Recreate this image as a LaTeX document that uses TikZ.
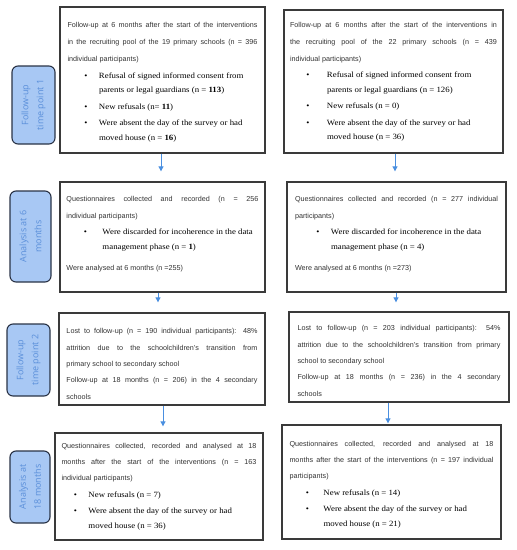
\documentclass[tikz,border=0pt]{standalone}
\usepackage{fontspec}
\setsansfont{Liberation Sans}
\newfontfamily\bulfont{Liberation Serif}[FakeStretch=1.1]
\newfontfamily\labfont{Open Sans}
\usetikzlibrary{arrows.meta}
\definecolor{labfill}{HTML}{A8C8F4}
\definecolor{labtext}{HTML}{5A8FDA}
\definecolor{labdraw}{HTML}{2A3346}
\definecolor{arrowblue}{HTML}{4A8FE0}
\definecolor{boxdraw}{HTML}{3A3A3A}
\definecolor{sanstext}{HTML}{333333}
\newcommand{\sanstxt}[1][17]{\sffamily\fontsize{7.2}{#1}\selectfont\color{sanstext}}
\newcommand{\bultxt}{\bulfont\fontsize{8.0}{14.5}\selectfont\color{black}}
\newcommand{\jline}[1]{\hbox to \hsize{#1}}
\newcommand{\rline}[1]{\hbox to \hsize{#1\hfil}}
\newcommand{\bitem}[3]{{\bultxt\hangindent=#1pt\hangafter=0\rightskip=0pt plus 1fil\noindent\llap{\makebox[0pt]{\textbullet}\hspace{\dimexpr#1pt-#2pt\relax}}#3\par}}
\begin{document}
\begin{tikzpicture}[x=1pt,y=-1pt,
  box/.style={draw=boxdraw, line width=1.3pt, fill=white, inner sep=0pt, align=justify,
    execute at begin node={\setlength{\parindent}{0pt}\setlength{\parskip}{2pt}\tolerance=9999\hbadness=10000\hyphenpenalty=10000}},
  lab/.style={draw=labdraw, fill=labfill, line width=1.1pt, rounded corners=6pt,
    text=labtext, font=\labfont\fontsize{9}{15}\selectfont, align=center, inner sep=0pt, rotate=90},
  arr/.style={draw=arrowblue, line width=0.8pt, -{Triangle[length=5pt,width=5pt]}}]
\useasboundingbox (0,0) rectangle (517,550);

% side labels
\node[lab, minimum width=78pt, minimum height=43pt] (T1) at (33.5,105) {Follow-up\\time point 1};
\node[lab, minimum width=91pt, minimum height=41pt] (T2) at (30.5,236.5) {Analysis at 6\\months};
\node[lab, minimum width=72pt, minimum height=43pt] (T3) at (28.5,360) {Follow-up\\time point 2};
\node[lab, minimum width=72pt, minimum height=40pt] (T4) at (30,487) {Analysis at\\18 months};

% row 1
\node[box, minimum width=205pt, minimum height=146pt, text width=190pt] (L1) at (162.5,80) {%
{\sanstxt
\jline{Follow-up at 6 months after the start of the interventions}
\jline{in the recruiting pool of the 19 primary schools (n = 396}
\rline{individual participants)}\par}
\bitem{31.5}{18.5}{Refusal of signed informed consent from\newline parents or legal guardians (n = \textbf{113})}
\bitem{31.5}{18.5}{New refusals (n= \textbf{11})}
\bitem{31.5}{18.5}{Were absent the day of the survey or had\newline moved house (n = \textbf{16})}
\par\kern-4pt};

\node[box, minimum width=219pt, minimum height=143pt, text width=207pt] (R1) at (393.5,81.5) {%
{\sanstxt
\jline{Follow-up at 6 months after the start of the interventions in}
\jline{the recruiting pool of the 22 primary schools (n = 439}
\rline{individual participants)}\par}
\bitem{37}{18}{Refusal of signed informed consent from\newline parents or legal guardians (n = 126)}
\bitem{37}{18}{New refusals (n = 0)}
\bitem{37}{18}{Were absent the day of the survey or had\newline moved house (n = 36)}};

% row 2
\node[box, minimum width=205pt, minimum height=110pt, text width=192pt] (L2) at (162.5,237) {%
{\sanstxt
\jline{Questionnaires collected and recorded (n = 256}
\rline{individual participants)}\par}
\bitem{36}{19}{Were discarded for incoherence in the data\newline management phase (n = \textbf{1})}
\vspace{4pt}
{\sanstxt\rline{Were analysed at 6 months (n =255)}}
\par\kern6pt};

\node[box, minimum width=219pt, minimum height=110pt, text width=203pt] (R2) at (396.5,237) {%
{\sanstxt
\jline{Questionnaires collected and recorded (n = 277 individual}
\rline{participants)}\par}
\bitem{36}{23}{Were discarded for incoherence in the data\newline management phase (n = 4)}
\vspace{4pt}
{\sanstxt\rline{Were analysed at 6 months (n =273)}}
\par\kern6pt};

% row 3
\node[box, minimum width=206pt, minimum height=92pt, text width=191pt] (L3) at (162,359) {%
{\sanstxt[16.3]
\jline{Lost to follow-up (n = 190 individual participants): 48\%}
\jline{attrition due to the schoolchildren’s transition from}
\rline{primary school to secondary school}
\jline{Follow-up at 18 months (n = 206) in the 4 secondary}
\rline{schools}\par}
\kern-10pt};

\node[box, minimum width=220pt, minimum height=90pt, text width=203pt] (R3) at (399,357) {%
{\sanstxt[16.3]
\jline{Lost to follow-up (n = 203 individual participants): 54\%}
\jline{attrition due to the schoolchildren’s transition from primary}
\rline{school to secondary school}
\jline{Follow-up at 18 months (n = 236) in the 4 secondary}
\rline{schools}\par}
\kern-8pt};

% row 4
\node[box, minimum width=208pt, minimum height=107pt, text width=195pt] (L4) at (159,486.5) {%
{\sanstxt[16]
\jline{Questionnaires collected, recorded and analysed at 18}
\jline{months after the start of the interventions (n = 163}
\rline{individual participants)}\par}
\bitem{27}{14}{New refusals (n = 7)}
\bitem{27}{14}{Were absent the day of the survey or had\newline moved house (n = 36)}};

\node[box, minimum width=219pt, minimum height=114pt, text width=204pt] (R4) at (391.5,482) {%
{\sanstxt[16]
\jline{Questionnaires collected, recorded and analysed at 18}
\jline{months after the start of the interventions (n = 197 individual}
\rline{participants)}\par}
\bitem{34}{18}{New refusals (n = 14)}
\bitem{34}{18}{Were absent the day of the survey or had\newline moved house (n = 21)}
\par\kern-5pt};

% arrows
\coordinate (a1l) at (161,0);
\coordinate (a1r) at (395,0);
\coordinate (a2l) at (158,0);
\coordinate (a2r) at (396,0);
\coordinate (a3l) at (163,0);
\coordinate (a3r) at (388,0);
\draw[arr] (L1.south -| a1l) -- ([yshift=10pt]L2.north -| a1l);
\draw[arr] (R1.south -| a1r) -- ([yshift=10pt]R2.north -| a1r);
\draw[arr] (L2.south -| a2l) -- ([yshift=10pt]L3.north -| a2l);
\draw[arr] (R2.south -| a2r) -- ([yshift=9pt]R3.north -| a2r);
\draw[arr] (L3.south -| a3l) -- ([yshift=6pt]L4.north -| a3l);
\draw[arr] (R3.south -| a3r) -- ([yshift=1pt]R4.north -| a3r);
\end{tikzpicture}
\end{document}
